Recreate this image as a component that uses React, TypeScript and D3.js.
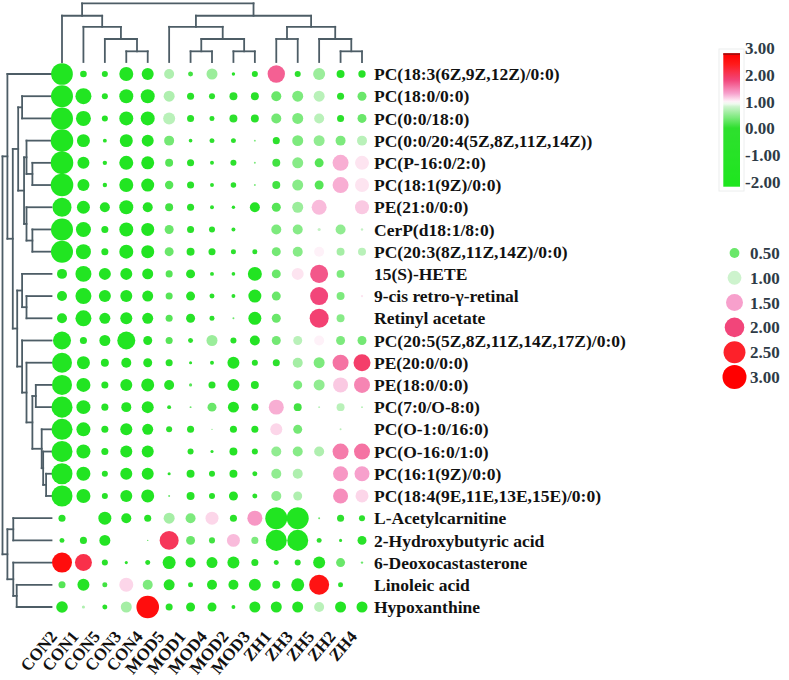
import React from 'react';
import * as d3 from 'd3';

const columns = ["CON2","CON1","CON5","CON3","CON4","MOD5","MOD1","MOD4","MOD2","MOD3","ZH1","ZH3","ZH5","ZH2","ZH4"];

const rows = [
  "PC(18:3(6Z,9Z,12Z)/0:0)",
  "PC(18:0/0:0)",
  "PC(0:0/18:0)",
  "PC(0:0/20:4(5Z,8Z,11Z,14Z))",
  "PC(P-16:0/2:0)",
  "PC(18:1(9Z)/0:0)",
  "PE(21:0/0:0)",
  "CerP(d18:1/8:0)",
  "PC(20:3(8Z,11Z,14Z)/0:0)",
  "15(S)-HETE",
  "9-cis retro-\u03b3-retinal",
  "Retinyl acetate",
  "PC(20:5(5Z,8Z,11Z,14Z,17Z)/0:0)",
  "PE(20:0/0:0)",
  "PE(18:0/0:0)",
  "PC(7:0/O-8:0)",
  "PC(O-1:0/16:0)",
  "PC(O-16:0/1:0)",
  "PC(16:1(9Z)/0:0)",
  "PC(18:4(9E,11E,13E,15E)/0:0)",
  "L-Acetylcarnitine",
  "2-Hydroxybutyric acid",
  "6-Deoxocastasterone",
  "Linoleic acid",
  "Hypoxanthine",
];

// bubble size values (one row per metabolite, columns in the order above)
const sizeValues = [
  [2.45,0.23,0.19,1.02,0.75,0.52,0.13,0.63,0.06,0.19,1.57,0.19,0.75,0.33,0.28],
  [2.52,1.33,0.19,1.02,1.02,0.63,0.26,0.19,0.33,0.33,0.52,0.63,0.63,0.26,0.42],
  [2.52,1.17,0.19,1.02,1.02,0.75,0.26,0.13,0.33,0.33,0.52,0.63,0.52,0.26,0.42],
  [2.66,0.88,0.08,0.88,0.75,0.52,0.07,0.13,0.13,0.02,0.26,0.63,0.63,0.52,0.52],
  [2.66,0.75,0.10,1.02,0.88,0.33,0.26,0.08,0.19,0.02,0.33,0.63,0.42,1.33,1.02],
  [2.66,0.75,0.10,1.02,0.88,0.37,0.26,0.08,0.16,0.02,0.33,0.63,0.42,1.33,1.02],
  [1.88,0.88,0.52,1.02,0.52,0.33,0.26,0.08,0.06,0.52,0.42,0.63,1.17,0.00,1.02],
  [2.52,1.17,0.26,1.02,0.88,0.42,0.26,0.19,0.08,0.00,0.52,0.52,0.05,0.52,0.03],
  [2.52,1.17,0.26,1.02,0.88,0.42,0.33,0.26,0.13,0.13,0.42,0.52,0.52,0.33,0.33],
  [0.52,1.33,0.75,0.75,0.63,0.26,0.42,0.08,0.07,1.02,0.42,0.75,1.69,0.33,0.00],
  [0.52,1.33,0.75,0.75,0.63,0.26,0.42,0.13,0.08,0.88,0.42,0.00,1.69,0.33,0.03],
  [0.52,1.33,0.63,0.75,0.63,0.26,0.42,0.13,0.02,0.88,0.42,0.00,1.88,0.33,0.00],
  [1.69,0.26,0.63,1.69,0.42,0.26,0.13,0.63,0.19,0.52,0.42,0.42,0.52,0.42,0.42],
  [2.08,0.88,0.33,0.52,0.42,0.26,0.05,0.08,0.75,0.19,0.26,0.52,0.63,1.33,1.50],
  [2.08,1.02,0.26,0.75,0.88,0.52,0.05,0.26,0.75,0.33,0.00,0.42,0.63,1.17,1.33],
  [2.30,1.02,0.26,0.52,0.75,0.08,0.02,0.42,0.63,0.26,1.17,0.33,0.02,0.33,0.02],
  [2.30,1.02,0.26,0.75,0.63,0.19,0.26,0.01,0.26,0.26,0.75,0.42,0.00,0.02,0.00],
  [2.30,1.02,0.26,0.75,0.75,0.00,0.19,0.05,0.33,0.19,0.52,0.52,0.52,1.33,1.33],
  [2.30,1.02,0.19,0.75,0.75,0.05,0.33,0.19,0.33,0.13,0.52,0.52,0.00,1.17,1.17],
  [2.30,1.02,0.19,0.75,0.88,0.02,0.33,0.19,0.42,0.13,0.52,0.42,0.00,1.17,0.88],
  [0.26,0.00,0.88,0.52,0.26,0.63,0.52,0.88,0.26,1.17,2.52,2.52,0.02,0.26,0.19],
  [0.13,0.26,0.63,0.00,0.01,1.88,0.42,0.19,0.88,0.26,2.30,2.30,0.13,0.05,0.42],
  [2.08,1.50,0.19,0.05,0.13,0.88,0.52,0.63,0.75,0.26,0.13,0.19,0.75,0.42,0.03],
  [0.26,0.75,0.13,1.02,0.52,0.63,0.13,0.52,0.52,0.75,0.33,0.88,2.08,0.13,0.00],
  [0.70,0.05,0.13,0.63,2.66,0.26,0.42,0.42,0.08,0.63,0.63,0.63,0.52,0.63,0.63],
];

// bubble colour values (same layout)
const colorValues = [
  [-1.6,-1.0,-0.6,-1.5,-1.3,0.85,0.3,0.75,-0.5,-0.6,1.85,0.1,0.75,-1.0,-0.6],
  [-1.6,-1.5,-0.8,-1.5,-1.5,0.85,-0.5,0.0,0.0,-0.3,0.5,0.6,0.9,-0.2,0.5],
  [-1.6,-1.5,-0.8,-1.5,-1.5,0.9,-0.5,-0.3,0.0,-0.3,0.55,0.6,0.9,-0.3,0.5],
  [-1.7,-1.4,-0.5,-1.4,-1.3,0.55,0.0,0.2,0.0,0.6,0.0,0.6,0.7,0.6,0.9],
  [-1.7,-1.3,-0.5,-1.5,-1.4,0.4,-0.3,0.0,0.0,0.6,0.3,0.65,0.4,1.45,1.25],
  [-1.7,-1.3,-0.5,-1.5,-1.4,0.4,-0.3,0.0,0.0,0.6,0.3,0.65,0.4,1.45,1.25],
  [-1.5,-1.4,-1.0,-1.5,-1.0,0.3,-0.3,0.0,-0.3,-1.0,0.4,0.75,1.4,1.0,1.35],
  [-1.6,-1.5,-0.8,-1.5,-1.4,0.5,-0.3,-0.2,0.2,1.0,0.6,0.65,0.95,0.7,0.95],
  [-1.6,-1.5,-0.8,-1.5,-1.4,0.5,-0.5,-0.3,0.0,0.0,0.55,0.65,1.2,0.8,0.9],
  [-1.0,-1.5,-1.3,-1.3,-1.2,0.4,-0.8,0.0,0.0,-1.4,0.5,1.25,1.9,0.6,1.0],
  [-1.0,-1.5,-1.3,-1.3,-1.2,0.4,-0.8,-0.2,0.0,-1.4,0.5,1.0,2.0,0.6,1.25],
  [-1.0,-1.5,-1.2,-1.3,-1.2,0.4,-0.8,-0.2,0.5,-1.4,0.5,1.0,2.05,0.65,1.0],
  [-1.5,-0.8,-1.2,-1.5,-1.0,0.4,0.0,0.75,-0.5,-1.0,0.55,0.9,1.2,0.6,0.55],
  [-1.5,-1.4,-1.0,-1.2,-1.0,-0.5,0.0,-0.3,-1.2,-0.5,0.0,0.8,0.6,1.75,2.1],
  [-1.5,-1.4,-0.8,-1.3,-1.4,-0.8,0.4,-0.5,-1.3,-0.8,1.0,0.6,0.7,1.35,1.65],
  [-1.6,-1.4,-0.8,-1.2,-1.3,0.0,0.5,0.5,-1.2,-0.6,1.45,0.3,0.9,0.9,0.9],
  [-1.6,-1.4,-0.8,-1.3,-1.3,0.0,-0.5,0.6,-1.0,-0.8,1.3,0.55,1.0,0.9,1.0],
  [-1.6,-1.4,-0.8,-1.3,-1.3,1.0,-0.5,0.0,-1.0,-0.5,0.7,0.65,0.85,1.7,1.75],
  [-1.6,-1.4,-0.6,-1.3,-1.3,0.0,-0.8,-0.3,-1.0,-0.3,0.7,0.85,1.0,1.55,1.5],
  [-1.6,-1.4,-0.6,-1.3,-1.4,0.5,-0.8,-0.3,-1.0,-0.3,0.7,0.85,1.0,1.6,1.3],
  [-0.5,1.0,-1.3,-1.2,-0.8,0.8,0.6,1.3,-0.5,1.55,-1.6,-1.6,0.5,0.2,0.0],
  [0.0,-0.5,-1.2,1.0,0.5,2.2,0.5,0.3,1.4,0.6,-1.6,-1.6,0.2,0.2,-0.5],
  [2.8,2.3,-0.3,0.0,-0.3,-1.2,-1.0,-1.0,-1.2,-0.5,-0.3,-0.3,-1.2,0.5,0.5],
  [0.4,-1.0,0.3,1.3,0.6,-0.8,-0.3,-1.0,-1.0,-1.2,-0.8,-1.3,2.7,-0.3,1.0],
  [-1.0,0.85,-0.3,0.8,2.8,-0.5,-1.0,-1.0,-0.3,-1.2,-1.2,-1.2,0.9,-1.2,-1.2],
];

const colorTicks = [3, 2, 1, 0, -1, -2];
const sizeLegendValues = [0.5, 1, 1.5, 2, 2.5, 3];

type TreeNode = string | number | { h: number; c: [TreeNode, TreeNode] };

// column clustering (merge heights)
const colTree: TreeNode = { h: 5, c: [
  { h: 3.94, c: ["CON2", { h: 3.0, c: ["CON1", { h: 1.96, c: ["CON5", { h: 0.91, c: ["CON3", "CON4"] }] }] }] },
  { h: 3.94, c: [
    { h: 3.0, c: ["MOD5", { h: 1.96, c: [{ h: 0.91, c: ["MOD1", "MOD4"] }, { h: 0.91, c: ["MOD2", "MOD3"] }] }] },
    { h: 3.0, c: [{ h: 1.96, c: ["ZH1", "ZH3"] }, { h: 1.96, c: ["ZH5", { h: 0.91, c: ["ZH2", "ZH4"] }] }] },
  ] },
] };

// row clustering (leaves are row indices)
const rowTree: TreeNode = { h: 10, c: [
  { h: 9.0, c: [0, { h: 7.9, c: [
    { h: 6.8, c: [
      { h: 6.0, c: [1, 2] },
      { h: 5.6, c: [
        { h: 5.1, c: [3, { h: 3.9, c: [4, 5] }] },
        { h: 5.1, c: [6, { h: 3.9, c: [7, 8] }] },
      ] },
    ] },
    { h: 7.0, c: [
      { h: 6.0, c: [9, { h: 5.1, c: [10, 11] }] },
      { h: 6.0, c: [12, { h: 5.1, c: [13, { h: 3.9, c: [
        { h: 3.2, c: [14, 15] },
        { h: 2.0, c: [16, { h: 1.7, c: [17, { h: 1.1, c: [18, 19] }] }] },
      ] }] }] },
    ] },
  ] }] },
  { h: 9.0, c: [
    { h: 7.8, c: [20, 21] },
    { h: 7.8, c: [22, { h: 7.1, c: [23, 24] }] },
  ] },
] };

const FONT = "'Liberation Serif', 'Times New Roman', serif";

type Seg = [number, number, number, number];

function walk(node: TreeNode, leafPos: (l: string | number) => number, depth: (h: number) => number, segs: Seg[]): { p: number; d: number } {
  if (typeof node !== 'object') return { p: leafPos(node), d: depth(0) };
  const a = walk(node.c[0], leafPos, depth, segs);
  const b = walk(node.c[1], leafPos, depth, segs);
  const d = depth(node.h);
  segs.push([a.p, d, b.p, d]);
  segs.push([a.p, d, a.p, a.d]);
  segs.push([b.p, d, b.p, b.d]);
  return { p: (a.p + b.p) / 2, d };
}

export default function App() {
  const W = 789, H = 680;
  const x = d3.scalePoint<string>().domain(columns).range([62, 362]);
  const y = d3.scalePoint<number>().domain(rows.map((_, i) => i)).range([74, 607]);
  const r = d3.scaleSqrt().domain([0, 3]).range([0, 12]);
  const color = d3.scaleLinear<string>()
    .domain([-2, 0.2, 1.0, 1.15, 1.5, 2, 2.6, 3])
    .range(["#1ee61e", "#2ee02e", "#cdf3cd", "#ffffff", "#f7a0cc", "#f2457a", "#ff1a1a", "#ff0000"])
    .clamp(true);

  const topDepth = d3.scaleLinear().domain([0, 5]).range([62, 3.3]);
  const leftDepth = d3.scaleLinear().domain([0, 10]).range([51.5, 2.5]);

  const topSegs: Seg[] = [];
  walk(colTree, (l) => x(l as string)!, topDepth, topSegs);
  const leftSegsRaw: Seg[] = [];
  walk(rowTree, (l) => y(l as number)!, leftDepth, leftSegsRaw);
  const leftSegs: Seg[] = leftSegsRaw.map(([p1, d1, p2, d2]) => [d1, p1, d2, p2]);

  const cb = d3.scaleLinear().domain([-2, 3]).range([186.7, 53.3]);
  const gradStops = d3.range(0, 51).map((i) => -2 + i * 0.1);
  const sizeY = d3.scalePoint<number>().domain(sizeLegendValues).range([253, 377]);

  const lineColor = "#4d5d66";
  const legendText = "#2e3b46";

  return (
    <svg width={W} height={H} style={{ position: 'absolute', left: 0, top: 0, background: '#fff' }} fontFamily={FONT}>
      <defs>
        <linearGradient id="cbgrad" x1="0" y1="1" x2="0" y2="0">
          {gradStops.map((v) => (
            <stop key={v} offset={`${((v + 2) / 5) * 100}%`} stopColor={color(v)} />
          ))}
        </linearGradient>
      </defs>
      <rect width={W} height={H} fill="#fff" />

      {/* dendrograms */}
      <g stroke={lineColor} strokeWidth={1.8} fill="none" strokeLinecap="square">
        {topSegs.map((s, i) => <line key={'t' + i} x1={s[0]} y1={s[1]} x2={s[2]} y2={s[3]} />)}
        {leftSegs.map((s, i) => <line key={'l' + i} x1={s[0]} y1={s[1]} x2={s[2]} y2={s[3]} />)}
      </g>

      {/* bubbles */}
      <g>
        {rows.map((_, i) => columns.map((c, j) => {
          const s = sizeValues[i][j];
          if (s <= 0) return null;
          return <circle key={i + '-' + j} cx={x(c)} cy={y(i)} r={r(s)} fill={color(colorValues[i][j])} />;
        }))}
      </g>

      {/* row labels */}
      <g fontWeight="bold" fontSize={17.5} fill="#111">
        {rows.map((name, i) => (
          <text key={name} x={374} y={y(i)} dy="0.35em">{name}</text>
        ))}
      </g>

      {/* column labels */}
      <g fontWeight="bold" fontSize={17} fill="#111">
        {columns.map((c) => (
          <text key={c} transform={`translate(${x(c)! - 4},637) rotate(-50)`} textAnchor="end">{c}</text>
        ))}
      </g>

      {/* colour bar */}
      <rect x={719} y={49} width={25} height={142} fill="none" stroke="#eceeee" strokeWidth={1} />
      <rect x={723.3} y={cb(3)} width={16.7} height={cb(-2) - cb(3)} fill="url(#cbgrad)" />
      <rect x={723.3} y={cb(3)} width={16.7} height={1.5} fill="#9a1010" />
      <g fontWeight="bold" fontSize={17} fill={legendText}>
        {colorTicks.map((v) => (
          <text key={v} x={745} y={cb(v) - 5} dy="0.35em">{v.toFixed(2)}</text>
        ))}
      </g>

      {/* size legend */}
      <g>
        {sizeLegendValues.map((v) => (
          <g key={v}>
            <circle cx={734.5} cy={sizeY(v)} r={r(v)} fill={color(v)} />
            <text x={750} y={sizeY(v)} dy="0.35em" fontWeight="bold" fontSize={17} fill={legendText}>{v.toFixed(2)}</text>
          </g>
        ))}
      </g>
    </svg>
  );
}
